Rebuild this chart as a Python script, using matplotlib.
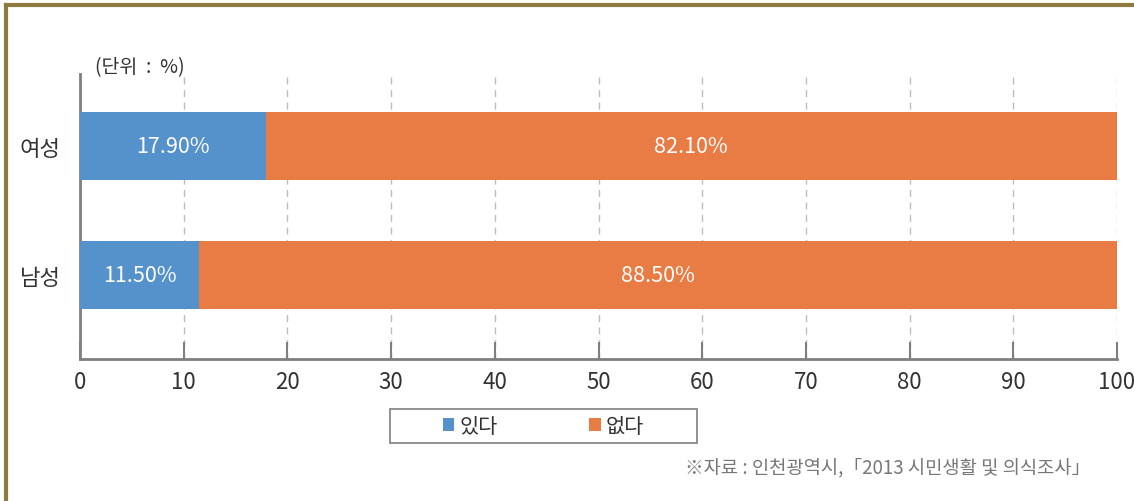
import matplotlib
matplotlib.use("Agg")
import matplotlib.pyplot as plt
from matplotlib.patches import Patch, Rectangle
from matplotlib.lines import Line2D

plt.rcParams['font.family'] = ['Noto Sans CJK KR', 'DejaVu Sans']

categories = ['남성', '여성']
yes_vals = [11.5, 17.9]
no_vals = [88.5, 82.1]
series_names = ['있다', '없다']
xticks = [0, 10, 20, 30, 40, 50, 60, 70, 80, 90, 100]

blue = '#5592CB'
orange = '#E97C45'

fig = plt.figure(figsize=(11.34, 5.02), dpi=100)
ax = fig.add_axes([80/1134, 1-360/502, (1117-80)/1134, (360-75)/502])

y = [0, 1]
h = 0.527
ax.barh(y, yes_vals, height=h, color=blue, zorder=3)
ax.barh(y, no_vals, left=yes_vals, height=h, color=orange, zorder=3)

for yi, a, b in zip(y, yes_vals, no_vals):
    ax.text(a/2, yi, f'{a:.2f}%', ha='center', va='center', color='white', fontsize=15.5, zorder=4)
    ax.text(a + b/2, yi, f'{b:.2f}%', ha='center', va='center', color='white', fontsize=15.5, zorder=4)

ax.set_xlim(0, 100)
ax.set_ylim(-0.65, 1.558)
ax.set_xticks(xticks)
ax.set_xticklabels([str(t) for t in xticks])
ax.set_yticks(y)
ax.set_yticklabels(categories)
ax.tick_params(axis='x', direction='in', length=12, width=1.5, color='#7f7f7f', labelsize=16, labelcolor='#333333', pad=8)
ax.tick_params(axis='y', length=0, labelsize=16, labelcolor='#333333', pad=14)

for t in xticks[1:]:
    ax.axvline(t, color='#bdbdbd', linestyle=(0, (5, 4)), linewidth=1.0, zorder=1)

for s in ['top', 'right']:
    ax.spines[s].set_visible(False)
for s in ['left', 'bottom']:
    ax.spines[s].set_color('#7f7f7f')
    ax.spines[s].set_linewidth(2)

fig.text(95/1134, 1-68/502, '(단위  :  %)', fontsize=14, color='#333333', va='center', ha='left')

# legend box
fig.add_artist(Rectangle((390/1134, 1-444/502), (697-390)/1134, (444-410)/502,
                         transform=fig.transFigure, facecolor='white', edgecolor='#7f7f7f', linewidth=1.2))
handles = [Patch(facecolor=blue, edgecolor='none'), Patch(facecolor=orange, edgecolor='none')]
leg = fig.legend(handles, series_names, loc='center', bbox_to_anchor=(543.5/1134, 1-427/502),
                 ncol=2, fontsize=15, frameon=False, handlelength=0.55, handleheight=0.55,
                 handletextpad=0.25, columnspacing=4.4, borderpad=0, borderaxespad=0)
for t in leg.get_texts():
    t.set_color('#333333')

fig.text(1090/1134, 1-468/502, '※자료 : 인천광역시,「2013 시민생활 및 의식조사」', fontsize=13.5, color='#777777',
         ha='right', va='center')

# decorative frame (left and top)
fig.add_artist(Line2D([6/1134, 6/1134], [0, 1-6/502], transform=fig.transFigure, color='#8C7A3E', linewidth=3))
fig.add_artist(Line2D([6/1134, 1], [1-6/502, 1-6/502], transform=fig.transFigure, color='#8C7A3E', linewidth=3))

fig.savefig('out.png', dpi=100)
